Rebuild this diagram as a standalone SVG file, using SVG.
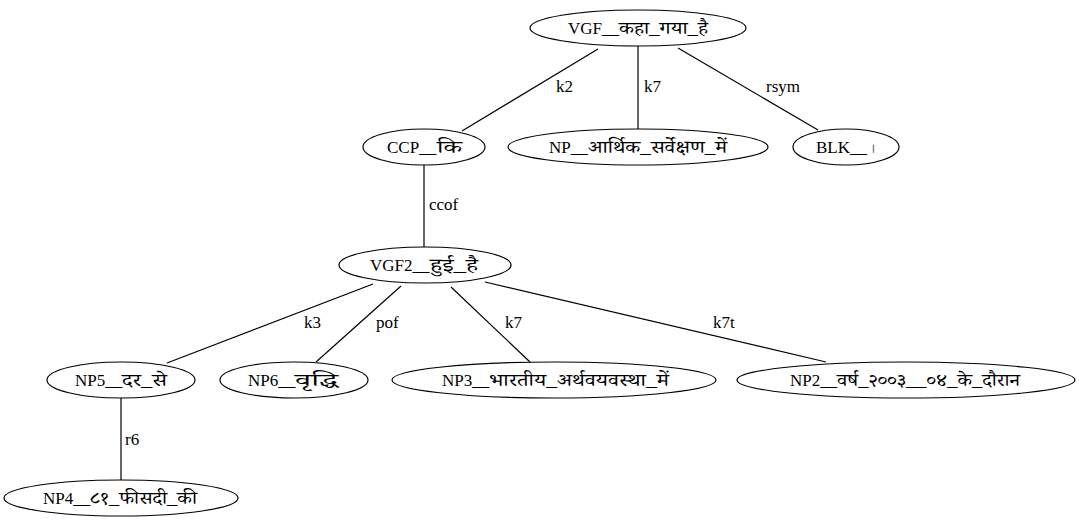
<svg xmlns="http://www.w3.org/2000/svg" width="1079" height="528" viewBox="0 0 1079 528">
  <style>
    .node ellipse { fill: none; stroke: #000; stroke-width: 1.2; }
    .node text { font-family: "Liberation Serif", "Noto Serif Devanagari", "Noto Sans Devanagari", serif; font-size: 17px; fill: #000; }
    .node text.dev { font-size: 18px; }
    .node text.danda { font-size: 14px; fill: #555; }
    .edges line { stroke: #000; stroke-width: 1.2; }
    .edges text { font-family: "Liberation Serif", serif; font-size: 17px; fill: #000; }
  </style>
  <rect width="1079" height="528" fill="#fff"/>

  <g class="edges" id="edges">
    <line x1="598" y1="49" x2="462" y2="131"/>
    <text x="556" y="92">k2</text>
    <line x1="638" y1="46" x2="638" y2="129"/>
    <text x="644" y="92">k7</text>
    <line x1="678" y1="48" x2="818" y2="130"/>
    <text x="766" y="92">rsym</text>
    <line x1="424" y1="165" x2="424" y2="247"/>
    <text x="429" y="210">ccof</text>
    <line x1="373" y1="284" x2="167" y2="363"/>
    <text x="304" y="328">k3</text>
    <line x1="401" y1="286" x2="316" y2="362"/>
    <text x="376" y="328">pof</text>
    <line x1="451" y1="287" x2="530" y2="362"/>
    <text x="505" y="328">k7</text>
    <line x1="485" y1="282" x2="826" y2="362"/>
    <text x="713" y="328">k7t</text>
    <line x1="121" y1="398" x2="121" y2="480"/>
    <text x="125" y="445">r6</text>
  </g>

  <!-- each label: Latin tag, then the Devanagari words fitted to their run -->
  <g class="node" id="vgf">
    <ellipse cx="638" cy="28" rx="108" ry="18"/>
    <text x="568" y="34">VGF__</text>
    <text class="dev" x="619" y="34" textLength="89" lengthAdjust="spacingAndGlyphs">कहा_गया_है</text>
  </g>
  <g class="node" id="ccp">
    <ellipse cx="424" cy="147" rx="61" ry="18"/>
    <text x="387" y="153">CCP__</text>
    <text class="dev" x="437" y="153" textLength="25" lengthAdjust="spacingAndGlyphs">कि</text>
  </g>
  <g class="node" id="np">
    <ellipse cx="638" cy="147" rx="130" ry="18"/>
    <text x="549" y="153">NP__</text>
    <text class="dev" x="588" y="153" textLength="139" lengthAdjust="spacingAndGlyphs">आर्थिक_सर्वेक्षण_में</text>
  </g>
  <g class="node" id="blk">
    <ellipse cx="846" cy="147" rx="53" ry="18"/>
    <text x="816" y="153">BLK__</text>
    <text class="danda" x="870" y="153">।</text>
  </g>
  <g class="node" id="vgf2">
    <ellipse cx="425" cy="265" rx="86" ry="18"/>
    <text x="370" y="271">VGF2__</text>
    <text class="dev" x="430" y="271" textLength="48" lengthAdjust="spacingAndGlyphs">हुई_है</text>
  </g>
  <g class="node" id="np5">
    <ellipse cx="121" cy="380" rx="74" ry="18"/>
    <text x="75" y="386">NP5__</text>
    <text class="dev" x="122" y="386" textLength="45" lengthAdjust="spacingAndGlyphs">दर_से</text>
  </g>
  <g class="node" id="np6">
    <ellipse cx="294" cy="380" rx="74" ry="18"/>
    <text x="248" y="386">NP6__</text>
    <text class="dev" x="295" y="386" textLength="43" lengthAdjust="spacingAndGlyphs">वृद्धि</text>
  </g>
  <g class="node" id="np3">
    <ellipse cx="554" cy="380" rx="162" ry="18"/>
    <text x="442" y="386">NP3__</text>
    <text class="dev" x="489" y="386" textLength="180" lengthAdjust="spacingAndGlyphs">भारतीय_अर्थवयवस्था_में</text>
  </g>
  <g class="node" id="np2">
    <ellipse cx="906" cy="380" rx="169" ry="18"/>
    <text x="790" y="386">NP2__</text>
    <text class="dev" x="837" y="386" textLength="183" lengthAdjust="spacingAndGlyphs">वर्ष_२००३__०४_के_दौरान</text>
  </g>
  <g class="node" id="np4">
    <ellipse cx="121" cy="498" rx="117" ry="18"/>
    <text x="43" y="504">NP4__</text>
    <text class="dev" x="90" y="504" textLength="107" lengthAdjust="spacingAndGlyphs">८१_फीसदी_की</text>
  </g>
</svg>
